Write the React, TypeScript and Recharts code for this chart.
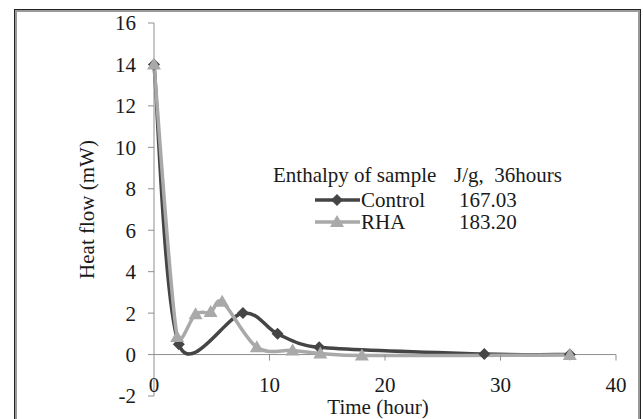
import React from "react";
import { Line, LineChart, ReferenceLine, XAxis, YAxis } from "recharts";

// hours / mW
const controlTime = [0, 2.15, 7.7, 10.7, 14.3, 28.6, 36];
const controlHeat = [14, 0.5, 2.0, 1.0, 0.35, 0.03, 0.0];
const rhaTime = [0, 2.0, 3.6, 4.9, 5.9, 8.9, 12.0, 14.4, 18.0, 36];
const rhaHeat = [14, 0.85, 1.95, 2.05, 2.55, 0.35, 0.2, 0.05, -0.05, -0.02];
const xTicks = [0, 10, 20, 30, 40];
const yTicks = [-2, 0, 2, 4, 6, 8, 10, 12, 14, 16];
const enthalpy = [
  { name: "Control", value: "167.03" },
  { name: "RHA", value: "183.20" },
];

const controlData = controlTime.map((t, i) => ({ t, v: controlHeat[i] }));
const rhaData = rhaTime.map((t, i) => ({ t, v: rhaHeat[i] }));

const FONT = "Liberation Serif";
const FS = 21;
const INK = "#1a1a1a";
const DARK = "#454545";
const LIGHT = "#a9a9a9";
const AXIS = "#8f8f8f";

const W = 643;
const H = 419;
const margin = { top: 23, right: 27, left: 94, bottom: 3 };
const plotH = H - margin.top - margin.bottom - 20;
const zeroY = margin.top + (plotH * 16) / 18;

// Excel-style smoothed line: Catmull-Rom bezier with clamped handles
function excelCurve(context: any) {
  let pts: number[][] = [];
  const clamp = (v: number[], max: number) => {
    const len = Math.hypot(v[0], v[1]);
    if (len <= max || len === 0) return v;
    return [(v[0] * max) / len, (v[1] * max) / len];
  };
  return {
    areaStart() {},
    areaEnd() {},
    lineStart() {
      pts = [];
    },
    point(x: number, y: number) {
      pts.push([+x, +y]);
    },
    lineEnd() {
      const n = pts.length;
      if (!n) return;
      context.moveTo(pts[0][0], pts[0][1]);
      for (let i = 0; i < n - 1; i++) {
        const p0 = pts[Math.max(i - 1, 0)];
        const p1 = pts[i];
        const p2 = pts[i + 1];
        const p3 = pts[Math.min(i + 2, n - 1)];
        const seg = Math.hypot(p2[0] - p1[0], p2[1] - p1[1]) * 0.5;
        const a = clamp([(p2[0] - p0[0]) / 6, (p2[1] - p0[1]) / 6], seg);
        const b = clamp([(p3[0] - p1[0]) / 6, (p3[1] - p1[1]) / 6], seg);
        context.bezierCurveTo(p1[0] + a[0], p1[1] + a[1], p2[0] - b[0], p2[1] - b[1], p2[0], p2[1]);
      }
    },
  };
}

function Diamond(props: any) {
  const { cx, cy } = props;
  if (cx == null || cy == null) return null;
  return <polygon points={`${cx},${cy - 6} ${cx + 6},${cy} ${cx},${cy + 6} ${cx - 6},${cy}`} fill={DARK} />;
}

function Triangle(props: any) {
  const { cx, cy } = props;
  if (cx == null || cy == null) return null;
  return <polygon points={`${cx},${cy - 7} ${cx + 7},${cy + 5} ${cx - 7},${cy + 5}`} fill={LIGHT} />;
}

function XTick(props: any) {
  const { x, payload } = props;
  return (
    <g>
      {payload.value !== 0 && <line x1={x} x2={x} y1={zeroY} y2={zeroY + 6} stroke={AXIS} />}
      <text x={x} y={zeroY + 37} textAnchor="middle" fontFamily={FONT} fontSize={FS} fill={INK}>
        {payload.value}
      </text>
    </g>
  );
}

const html = (left: number, top: number): React.CSSProperties => ({
  position: "absolute",
  left,
  top,
  fontFamily: FONT,
  fontSize: FS,
  lineHeight: "24px",
  color: INK,
  whiteSpace: "pre",
});

export default function App() {
  return (
    <div style={{ position: "relative", width: W, height: H, background: "#fff" }}>
      <style>{`body { margin: 0; overflow: hidden; }`}</style>
      <div style={html(273, 163)}>Enthalpy of sample</div>
      <div style={html(454, 163)}>{"J/g,  36hours"}</div>
      {enthalpy.map((row, i) => (
        <React.Fragment key={row.name}>
          <div style={html(361, 188 + i * 22)}>{row.name}</div>
          <div style={html(459, 188 + i * 22)}>{row.value}</div>
        </React.Fragment>
      ))}
      <div style={{ ...html(0, 395), width: 756, textAlign: "center" }}>Time (hour)</div>
      <svg width={W} height={H} style={{ position: "absolute", left: 0, top: 0 }}>
        <rect x={14.5} y={9.5} width={626} height={440} fill="none" stroke="#222" strokeWidth={1} />
        <rect x={16} y={11} width={623} height={440} fill="none" stroke="#9a9a9a" strokeWidth={2} />
        {enthalpy.map((row, i) => {
          const y = 200 + i * 22;
          return (
            <g key={row.name}>
              <line x1={315} x2={360} y1={y} y2={y} stroke={i === 0 ? DARK : LIGHT} strokeWidth={3.5} />
              {i === 0 ? <Diamond cx={337} cy={y} /> : <Triangle cx={337} cy={y} />}
            </g>
          );
        })}
      </svg>
      <div style={{ position: "absolute", left: 0, top: 0 }}>
        <LineChart width={W} height={H} margin={margin}>
          <XAxis
            type="number"
            dataKey="t"
            domain={[0, 40]}
            ticks={xTicks}
            height={20}
            axisLine={false}
            tickLine={false}
            tick={<XTick />}
            allowDuplicatedCategory={false}
          />
          <YAxis
            type="number"
            dataKey="v"
            domain={[-2, 16]}
            ticks={yTicks}
            width={60}
            stroke={AXIS}
            tickSize={6}
            tickMargin={12}
            tick={{ fontFamily: FONT, fontSize: FS, fill: INK }}
            label={{
              value: "Heat flow (mW)",
              angle: -90,
              position: "insideLeft",
              dx: -12,
              fontFamily: FONT,
              fontSize: FS,
              fill: INK,
              style: { textAnchor: "middle" },
            }}
          />
          <ReferenceLine y={0} stroke={AXIS} strokeWidth={1} />
          <Line
            data={controlData}
            dataKey="v"
            type={excelCurve as any}
            stroke={DARK}
            strokeWidth={3.5}
            dot={<Diamond />}
            activeDot={false}
            isAnimationActive={false}
          />
          <Line
            data={rhaData}
            dataKey="v"
            type={excelCurve as any}
            stroke={LIGHT}
            strokeWidth={3.5}
            dot={<Triangle />}
            activeDot={false}
            isAnimationActive={false}
          />
        </LineChart>
      </div>
    </div>
  );
}
